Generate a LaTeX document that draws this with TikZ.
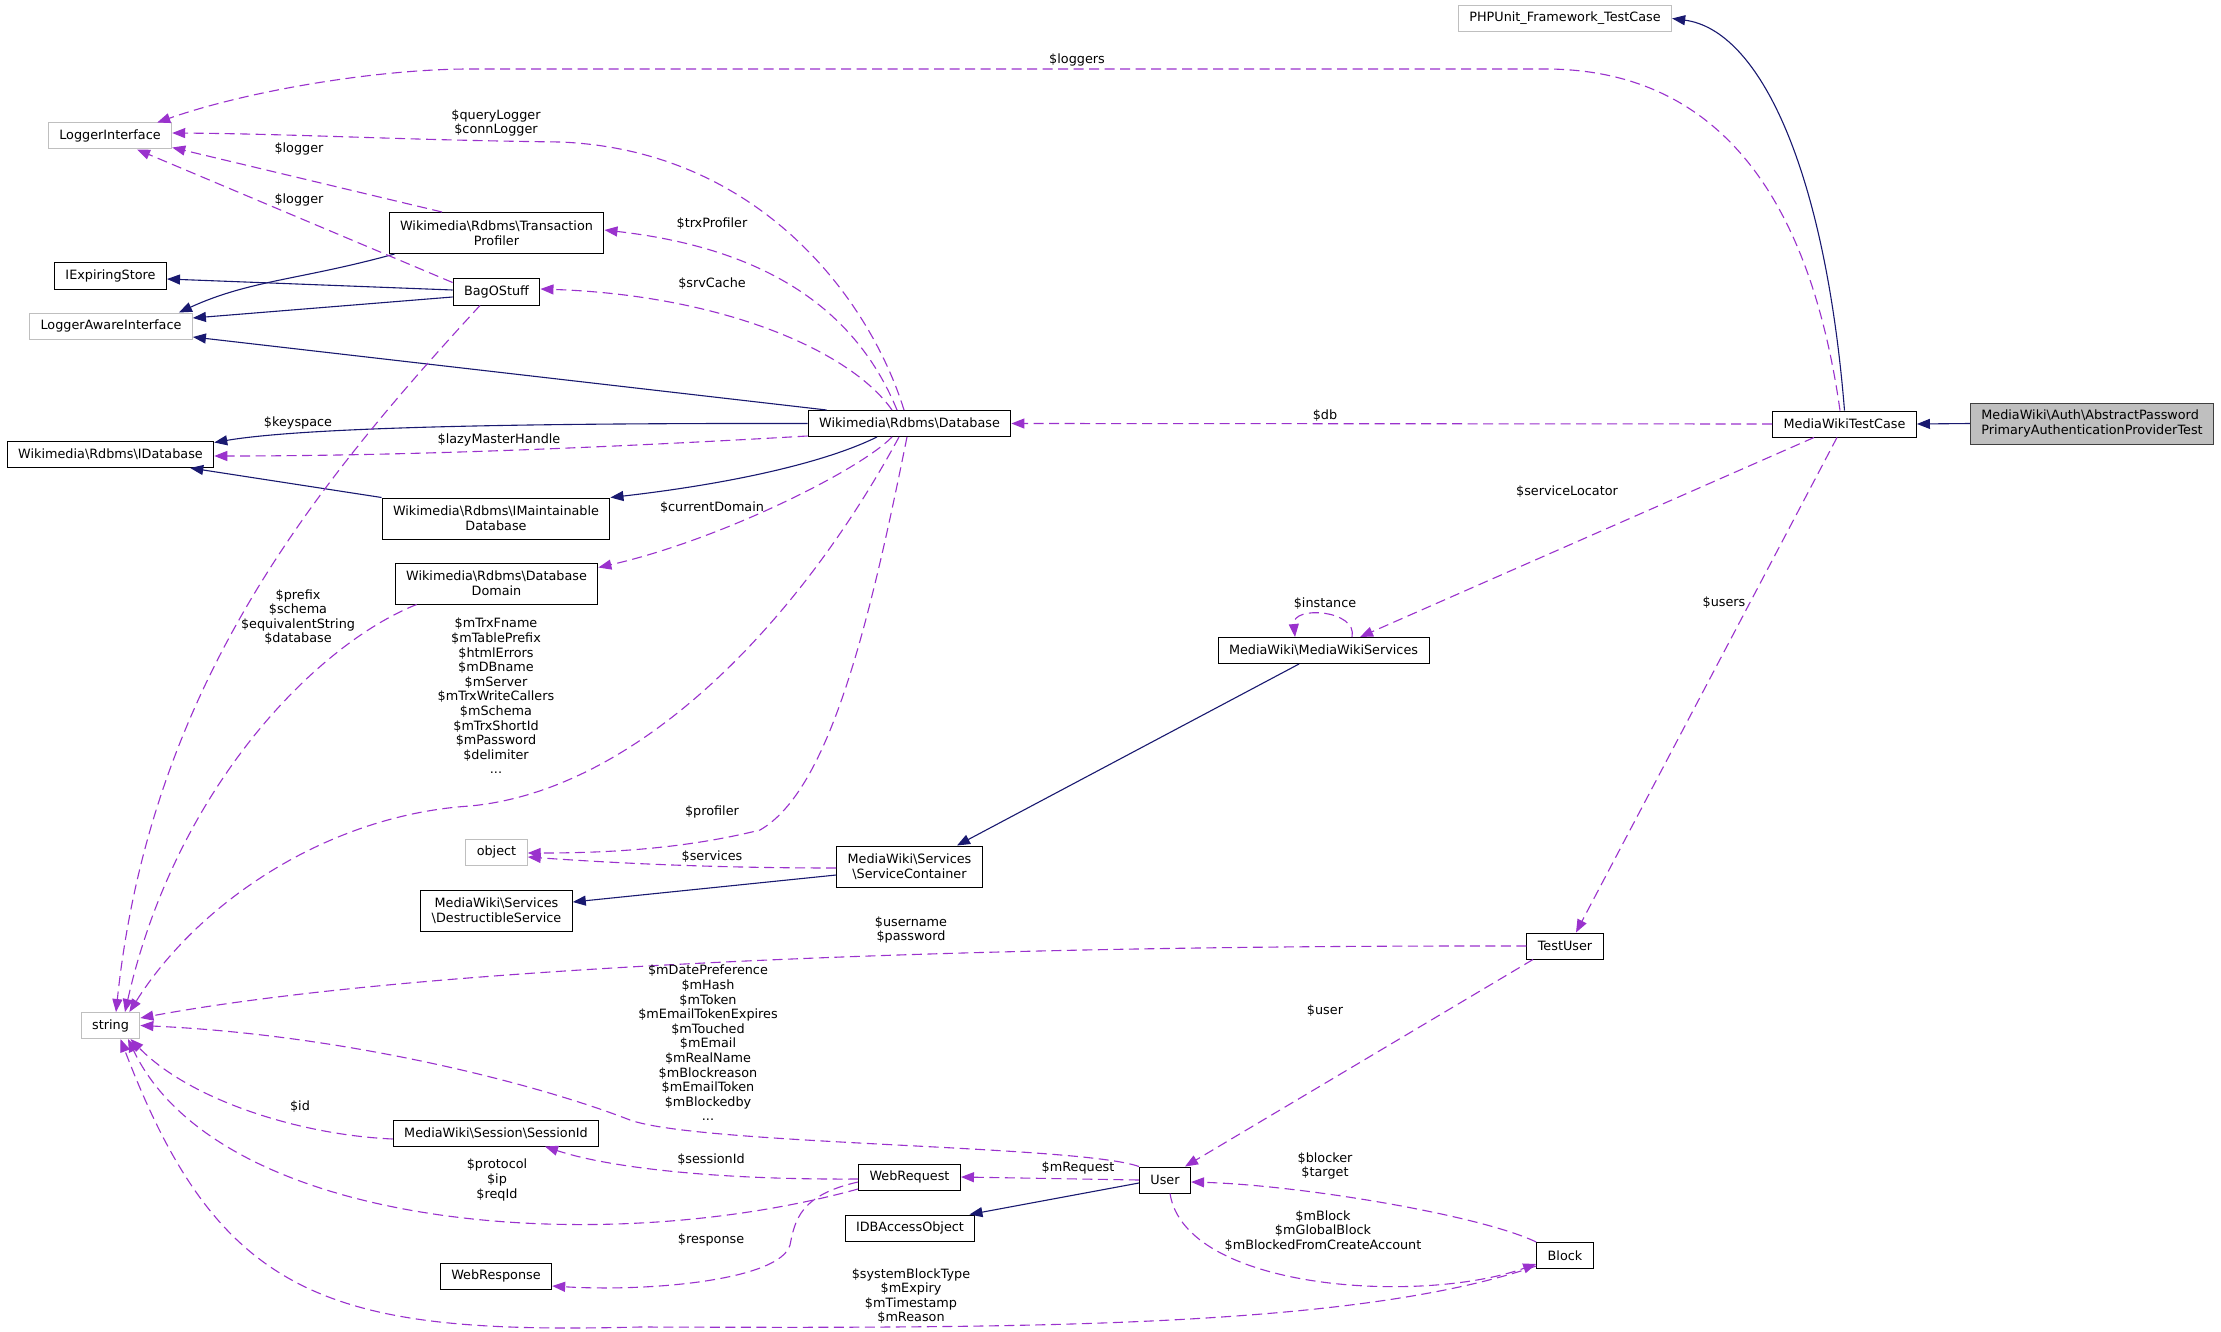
\documentclass[tikz,border=0pt]{standalone}
\usepackage{fontspec}
\setmainfont{DejaVu Sans}
\usetikzlibrary{arrows.meta}

\definecolor{usecol}{HTML}{9A32CD}
\definecolor{inhcol}{HTML}{191970}
\definecolor{extgray}{HTML}{BFBFBF}
\definecolor{boxline}{HTML}{404040}

\begin{document}
\begin{tikzpicture}[x=1pt, y=-1pt,
    cls/.style={draw=black, line width=1pt, rectangle, minimum height=26pt, inner xsep=11pt, inner ysep=2pt, align=center, font=\fontsize{12.8}{14.6}\selectfont},
    cls2/.style={cls, minimum height=41pt},
    ext/.style={cls, draw=extgray},
    inherit/.style={-{Triangle[length=13pt,width=10pt]}, line width=1.1pt, draw=inhcol},
    usage/.style={-{Triangle[length=13pt,width=10pt]}, line width=1.1pt, draw=usecol, dash pattern=on 10pt off 5.5pt},
    lbl/.style={align=center, inner sep=0pt, font=\fontsize{12.8}{14.6}\selectfont},
]
\fill[white] (0,0) rectangle (2221,1332);
\useasboundingbox (0,0) rectangle (2221,1332);

% left column
\node[ext] (loggerif) at (110,136) {LoggerInterface};
\node[cls] (expstore) at (110.5,276) {IExpiringStore};
\node[ext] (loggeraware) at (111,326) {LoggerAwareInterface};
\node[cls] (idb) at (110.5,454.5) {Wikimedia\textbackslash Rdbms\textbackslash IDatabase};
\node[ext] (strg) at (110.5,1025.5) {string};

% second column
\node[cls2] (trxprof) at (496.5,233) {Wikimedia\textbackslash Rdbms\textbackslash Transaction\\Profiler};
\node[cls] (bag) at (496.5,292) {BagOStuff};
\node[cls2] (imaint) at (496,518.5) {Wikimedia\textbackslash Rdbms\textbackslash IMaintainable\\Database};
\node[cls2] (dbdomain) at (496.5,583.5) {Wikimedia\textbackslash Rdbms\textbackslash Database\\Domain};
\node[ext] (object) at (496.5,852) {object};
\node[cls2] (destr) at (496.5,910.5) {MediaWiki\textbackslash Services\\\textbackslash DestructibleService};
\node[cls] (sessid) at (496,1133) {MediaWiki\textbackslash Session\textbackslash SessionId};
\node[cls] (webresp) at (496,1276) {WebResponse};

% third column
\node[cls] (db) at (909.5,423.5) {Wikimedia\textbackslash Rdbms\textbackslash Database};
\node[cls2] (svccont) at (909.5,866.5) {MediaWiki\textbackslash Services\\\textbackslash ServiceContainer};
\node[cls] (webreq) at (909.5,1177) {WebRequest};
\node[cls] (idbaccess) at (910,1228) {IDBAccessObject};
\node[cls] (user) at (1165,1180) {User};

% right part
\node[cls] (mws) at (1323.5,650.5) {MediaWiki\textbackslash MediaWikiServices};
\node[ext] (phpunit) at (1565,18.5) {PHPUnit\_Framework\_TestCase};
\node[cls] (testuser) at (1565,946) {TestUser};
\node[cls] (block) at (1565,1255.5) {Block};
\node[cls] (mwtc) at (1844.5,424) {MediaWikiTestCase};
\node[cls2, fill=extgray, draw=boxline, align=left] (main) at (2092,423.5) {MediaWiki\textbackslash Auth\textbackslash AbstractPassword\\PrimaryAuthenticationProviderTest};

% inheritance
\draw[inherit] (main.west) -- (mwtc.east);
\draw[inherit] (mwtc.north) .. controls (1825,170) and (1760,30) .. (phpunit.east);
\draw[inherit] ([xshift=6pt]trxprof.south west) .. controls (300,280) and (250,280) .. ([xshift=-14pt]loggeraware.north east);
\draw[inherit] ([yshift=2pt]bag.west) -- ([yshift=-3pt]expstore.east);
\draw[inherit] ([yshift=-5pt]bag.west) -- ([yshift=8pt]loggeraware.east);
\draw[inherit] ([xshift=19pt]db.north west) -- ([yshift=-11pt]loggeraware.east);
\draw[inherit] (db.west) .. controls (500,423) and (300,428) .. ([yshift=12pt]idb.east);
\draw[inherit] (imaint.north west) -- ([xshift=-24pt]idb.south east);
\draw[inherit] ([xshift=-32.5pt]db.south) .. controls (820,465) and (720,485) .. (imaint.north east);
\draw[inherit] ([xshift=-24.5pt]mws.south) -- ([xshift=47.5pt]svccont.north);
\draw[inherit] ([yshift=-8.5pt]svccont.west) -- ([yshift=8.5pt]destr.east);
\draw[inherit] ([yshift=-3pt]user.west) -- ([xshift=-6pt]idbaccess.north east);

% usage
\draw[usage] ([xshift=-4.5pt]mwtc.north) .. controls (1810,200) and (1720,69) .. (1545,69) -- (470,69) .. controls (380,69) and (250,90) .. ([xshift=-15pt]loggerif.north east);
\node[lbl] (lloggers) at (1077,60) {\$loggers};

\draw[usage] ([xshift=-5.5pt]db.north) .. controls (870,300) and (760,150) .. (560,142) .. controls (400,140) and (300,134) .. ([yshift=3pt]loggerif.east);
\node[lbl] (lquery) at (496,123) {\$queryLogger\\\$connLogger};

\draw[usage] ([xshift=-54.5pt]trxprof.north) -- ([yshift=2pt]loggerif.south east);
\node[lbl] (llogger) at (299,149) {\$logger};

\draw[usage] ([yshift=-4pt]bag.north west) -- ([xshift=27pt]loggerif.south);
\node[lbl] (lloggerb) at (299,200) {\$logger};

\draw[usage] ([xshift=-12.5pt]db.north) .. controls (860,320) and (780,250) .. ([yshift=3pt]trxprof.east);
\node[lbl] (ltrx) at (712,224) {\$trxProfiler};

\draw[usage] ([xshift=-17.5pt]db.north) .. controls (850,350) and (720,295) .. ([yshift=3pt]bag.east);
\node[lbl] (lsrv) at (712,284) {\$srvCache};

\draw[usage] ([xshift=-16.5pt]bag.south) .. controls (310,490) and (150,690) .. ([xshift=5.5pt]strg.north);
\node[lbl] (lkey) at (298,423) {\$keyspace};

\draw[usage] ([yshift=1pt]db.south west) .. controls (600,448) and (400,456) .. ([yshift=-1.5pt]idb.east);
\node[lbl] (llazy) at (499,440) {\$lazyMasterHandle};

\draw[usage] ([xshift=-17.5pt]db.south) .. controls (860,470) and (720,540) .. ([yshift=-5pt]dbdomain.north east);
\node[lbl] (lcur) at (712,508) {\$currentDomain};

\draw[usage] ([xshift=22pt]dbdomain.south west) .. controls (315,645) and (175,790) .. ([xshift=14.5pt]strg.north);
\node[lbl] (lprefix) at (298,617) {\$prefix\\\$schema\\\$equivalentString\\\$database};

\draw[usage] ([xshift=-10.5pt]db.south) .. controls (800,620) and (640,790) .. (470,806) .. controls (330,815) and (200,900) .. ([xshift=-11pt]strg.north east);
\node[lbl] (ldbstr) at (496,696) {\$mTrxFname\\\$mTablePrefix\\\$htmlErrors\\\$mDBname\\\$mServer\\\$mTrxWriteCallers\\\$mSchema\\\$mTrxShortId\\\$mPassword\\\$delimiter\\...};

\draw[usage] ([xshift=-2.5pt]db.south) .. controls (870,620) and (830,790) .. (760,830) .. controls (680,850) and (600,853) .. ([yshift=-1pt]object.east);
\node[lbl] (lprof) at (712,812) {\$profiler};

\draw[usage] ([yshift=-1.5pt]svccont.west) .. controls (700,868) and (600,862) .. ([yshift=-5pt]object.east);
\node[lbl] (lserv) at (712,857) {\$services};

\draw[usage] (mwtc.west) -- (db.east);
\node[lbl] (ldb) at (1325,416) {\$db};

\draw[usage] ([xshift=-30.5pt]mwtc.south) -- ([xshift=36.5pt]mws.north);
\node[lbl] (lloc) at (1567,492) {\$serviceLocator};

\draw[usage] ([xshift=28.5pt]mws.north) .. controls (1358,610) and (1292,605) .. ([xshift=-28.5pt]mws.north);
\node[lbl] (linst) at (1325,604) {\$instance};

\draw[usage] ([xshift=-7.5pt]mwtc.south) -- ([xshift=11pt]testuser.north);
\node[lbl] (lusers) at (1724,603) {\$users};

\draw[usage] (testuser.west) .. controls (900,945) and (400,970) .. ([yshift=7.5pt]strg.east);
\node[lbl] (luname) at (911,930) {\$username\\\$password};

\draw[usage] ([xshift=-32pt]testuser.south) -- ([xshift=20pt]user.north);
\node[lbl] (luser) at (1325,1011) {\$user};

\draw[usage] (user.north west) .. controls (1080,1145) and (700,1145) .. (630,1120) .. controls (540,1085) and (350,1035) .. (strg.east);
\node[lbl] (lustr) at (708,1043) {\$mDatePreference\\\$mHash\\\$mToken\\\$mEmailTokenExpires\\\$mTouched\\\$mEmail\\\$mRealName\\\$mBlockreason\\\$mEmailToken\\\$mBlockedby\\...};

\draw[usage] ([yshift=-6pt]sessid.west) .. controls (300,1135) and (190,1100) .. ([xshift=20pt]strg.south);
\node[lbl] (lid) at (300,1107) {\$id};

\draw[usage] ([yshift=-2pt]webreq.west) .. controls (700,1180) and (600,1165) .. ([xshift=49pt]sessid.south);
\node[lbl] (lsess) at (711,1160) {\$sessionId};

\draw[usage] ([yshift=-12pt]webreq.west) .. controls (600,1260) and (220,1230) .. ([xshift=17.5pt]strg.south);
\node[lbl] (lproto) at (497,1180) {\$protocol\\\$ip\\\$reqId};

\draw[usage] ([yshift=-5pt]webreq.west) .. controls (800,1195) and (795,1220) .. (790,1245) .. controls (780,1280) and (650,1292) .. ([yshift=-10pt]webresp.east);
\node[lbl] (lresp) at (711,1240) {\$response};

\draw[usage] (user.west) -- (webreq.east);
\node[lbl] (lreq) at (1078,1168) {\$mRequest};

\draw[usage] (block.north west) .. controls (1480,1215) and (1300,1185) .. ([yshift=-2pt]user.east);
\node[lbl] (lblocker) at (1325,1166) {\$blocker\\\$target};

\draw[usage] ([xshift=5pt]user.south) .. controls (1185,1290) and (1420,1305) .. ([yshift=-8.5pt]block.west);
\node[lbl] (lmblock) at (1323,1231) {\$mBlock\\\$mGlobalBlock\\\$mBlockedFromCreateAccount};

\draw[usage] ([yshift=-10.5pt]block.west) .. controls (1350,1330) and (1000,1328) .. (640,1327) .. controls (330,1335) and (220,1300) .. ([xshift=10pt]strg.south);
\node[lbl] (lsys) at (911,1296) {\$systemBlockType\\\$mExpiry\\\$mTimestamp\\\$mReason};

\end{tikzpicture}
\end{document}
